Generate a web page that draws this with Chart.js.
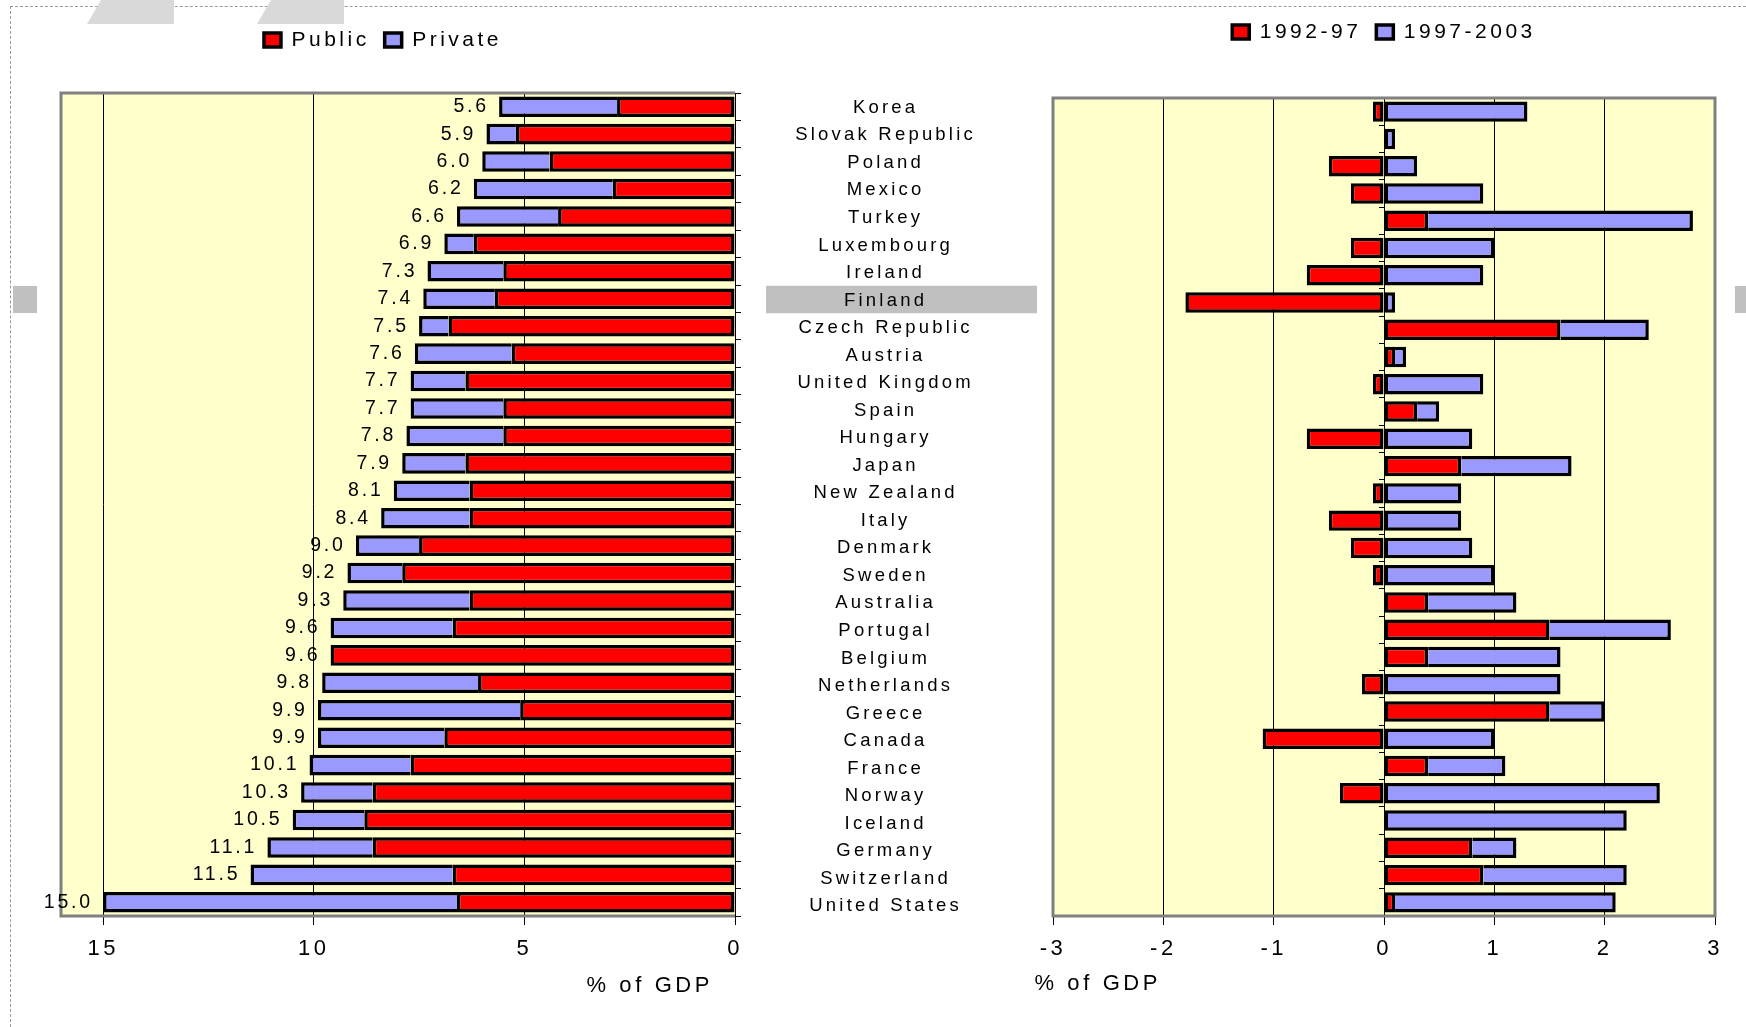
<!DOCTYPE html>
<html>
<head>
<meta charset="utf-8">
<title>Health expenditure, % of GDP</title>
<script src="https://cdn.jsdelivr.net/npm/chart.js@4.4.1/dist/chart.umd.min.js"></script>
<style>
  html, body { margin: 0; padding: 0; background: #fff; }
  #page { position: relative; width: 1746px; height: 1027px; overflow: hidden; background: #fff; }
  #page canvas { position: absolute; top: 0; }
  #left { left: 0; }
  #right { left: 766px; }
  .sheet-edge { position: absolute; left: 10px; top: 6px; right: 0; bottom: 0;
    border-top: 1px dashed #9a9a9a; border-left: 1px dashed #9a9a9a; }
  .tab { position: absolute; top: 0; height: 24px; background: #d9d9d9;
    clip-path: polygon(14px 0, 100% 0, 100% 100%, 0 100%); }
  .marker { position: absolute; background: #c0c0c0; }
</style>
</head>
<body>
<div id="page">
  <div class="sheet-edge"></div>
  <div class="tab" style="left:87px;width:87px"></div>
  <div class="tab" style="left:257px;width:87px"></div>
  <div class="marker" style="left:13px;top:286px;width:24px;height:27px"></div>
  <div class="marker" style="left:1735px;top:286px;width:11px;height:27px"></div>
  <canvas id="left" width="766" height="1027"></canvas>
  <canvas id="right" width="980" height="1027"></canvas>
</div>
<script>
// Countries, ranked by total health spending (% of GDP)
const countries = ['Korea', 'Slovak Republic', 'Poland', 'Mexico', 'Turkey', 'Luxembourg',
  'Ireland', 'Finland', 'Czech Republic', 'Austria', 'United Kingdom', 'Spain', 'Hungary',
  'Japan', 'New Zealand', 'Italy', 'Denmark', 'Sweden', 'Australia', 'Portugal', 'Belgium',
  'Netherlands', 'Greece', 'Canada', 'France', 'Norway', 'Iceland', 'Germany', 'Switzerland',
  'United States'];

// Level of spending, split into public and private parts
const publicSpending = [2.8, 5.2, 4.4, 2.9, 4.2, 6.2, 5.5, 5.7, 6.8, 5.3, 6.4, 5.5, 5.5, 6.4, 6.3,
  6.3, 7.5, 7.9, 6.3, 6.7, 9.6, 6.1, 5.1, 6.9, 7.7, 8.6, 8.8, 8.6, 6.7, 6.6];
const privateSpending = [2.8, 0.7, 1.6, 3.3, 2.4, 0.7, 1.8, 1.7, 0.7, 2.3, 1.3, 2.2, 2.3, 1.5, 1.8,
  2.1, 1.5, 1.3, 3.0, 2.9, 0.0, 3.7, 4.8, 3.0, 2.4, 1.7, 1.7, 2.5, 4.8, 8.4];

// Change in spending, percentage points of GDP
const change1992to97 = [-0.1, 0.0, -0.5, -0.3, 0.4, -0.3, -0.7, -1.8, 1.6, 0.1, -0.1, 0.3, -0.7, 0.7,
  -0.1, -0.5, -0.3, -0.1, 0.4, 1.5, 0.4, -0.2, 1.5, -1.1, 0.4, -0.4, 0.0, 0.8, 0.9, 0.1];
const change1997to2003 = [1.3, 0.1, 0.3, 0.9, 2.4, 1.0, 0.9, 0.1, 0.8, 0.1, 0.9, 0.2, 0.8, 1.0,
  0.7, 0.7, 0.8, 1.0, 0.8, 1.1, 1.2, 1.6, 0.5, 1.0, 0.7, 2.5, 2.2, 0.4, 1.3, 2.0];

// Axis tick labels
const levelTicks = [15, 10, 5, 0];
const changeTicks = [-3, -2, -1, 0, 1, 2, 3];

const highlighted = 'Finland';

const FONT = "'Liberation Sans', Arial, sans-serif";
const RED = '#ff0000';
const BLUE = '#9999ff';
const PLOT_BG = '#ffffcc';
const FRAME = '#808080';
const BAR = { borderColor: '#000', borderWidth: 3.5, barPercentage: 0.75, categoryPercentage: 1,
  xAxisID: 'x', yAxisID: 'y' };

Chart.defaults.font.family = FONT;
Chart.defaults.color = '#000';

function spacedText(ctx, text, x, y, size, spacing, align) {
  ctx.save();
  ctx.font = size + 'px ' + FONT;
  ctx.letterSpacing = spacing + 'px';
  ctx.fillStyle = '#000';
  ctx.textBaseline = 'middle';
  ctx.textAlign = align;
  // letter spacing also trails the last glyph; shift so the visible text sits where asked
  const dx = align === 'center' ? spacing / 2 : align === 'right' ? spacing : 0;
  ctx.fillText(text, x + dx, y);
  ctx.restore();
}

// Wide-tracked lettering for the texts Chart.js draws itself
const tracking = {
  id: 'tracking',
  beforeUpdate(chart, args, opts) { chart.ctx.letterSpacing = opts.value + 'px'; },
  beforeDraw(chart, args, opts) { chart.ctx.letterSpacing = opts.value + 'px'; }
};

function fillPlot(chart) {
  const { ctx, chartArea: a } = chart;
  ctx.save();
  ctx.fillStyle = PLOT_BG;
  ctx.fillRect(a.left, a.top, a.right - a.left, a.bottom - a.top);
  ctx.restore();
}

const legendOptions = {
  position: 'top',
  labels: { font: { size: 21 }, color: '#000', boxWidth: 17, boxHeight: 14, padding: 15 }
};

const spacer = (size, vertical) => ({
  type: 'linear',
  axis: vertical ? 'y' : 'x',
  position: vertical ? 'left' : 'top',
  display: true,
  grid: { display: false },
  border: { display: false },
  ticks: { display: false },
  afterFit(s) { if (vertical) { s.width = size; } else { s.height = size; } }
});

const valueAxisStyle = {
  grid: { color: '#000', lineWidth: 1, tickLength: 9, drawTicks: true },
  border: { display: false },
  ticks: { font: { size: 22 }, color: '#000', padding: 11, maxRotation: 0, callback: v => String(v) }
};

// ---- Level of spending ----
const levelPanel = {
  id: 'levelPanel',
  beforeDraw: fillPlot,
  beforeDatasetsDraw(chart) {
    const { ctx, chartArea: a } = chart;
    ctx.save();
    ctx.strokeStyle = FRAME;
    ctx.lineWidth = 3;
    ctx.beginPath();
    ctx.moveTo(a.right, a.top);
    ctx.lineTo(a.left, a.top);
    ctx.lineTo(a.left, a.bottom);
    ctx.lineTo(a.right, a.bottom);
    ctx.stroke();
    ctx.restore();
  },
  afterDatasetsDraw(chart) {
    const { ctx } = chart;
    const x = chart.scales.x, y = chart.scales.y;
    countries.forEach((name, i) => {
      const total = publicSpending[i] + privateSpending[i];
      spacedText(ctx, total.toFixed(1), x.getPixelForValue(total) - 13, y.getPixelForValue(i), 19.5, 2.8, 'right');
    });
    spacedText(ctx, '% of GDP', 648, 986, 22, 3.6, 'center');
  }
};

new Chart(document.getElementById('left'), {
  type: 'bar',
  data: {
    labels: countries,
    datasets: [
      Object.assign({ label: 'Public', data: publicSpending, backgroundColor: RED,
        borderSkipped: false }, BAR),
      Object.assign({ label: 'Private', data: privateSpending, backgroundColor: BLUE,
        borderSkipped: c => publicSpending[c.dataIndex] > 0 ? 'start' : false }, BAR)
    ]
  },
  options: {
    indexAxis: 'y',
    responsive: false,
    animation: false,
    events: [],
    layout: { padding: { top: 14.5, left: 25, right: 25, bottom: 0 } },
    plugins: {
      legend: legendOptions,
      tooltip: { enabled: false },
      tracking: { value: 3.5 }
    },
    scales: {
      x: Object.assign({
        type: 'linear', position: 'bottom', reverse: true, min: 0, max: 16, stacked: true,
        afterBuildTicks(s) { s.ticks = levelTicks.map(v => ({ value: v })); },
        afterFit(s) { s.height = 111; }
      }, valueAxisStyle),
      y: {
        type: 'category', position: 'right', stacked: true, offset: true,
        ticks: { display: false },
        grid: { offset: true, drawOnChartArea: false, drawTicks: true, tickLength: 6, color: '#000' },
        border: { color: '#000', width: 1 },
        afterFit(s) { s.width = 6; }
      },
      gap: spacer(32.5, false),
      padL: spacer(36, true)
    }
  },
  plugins: [tracking, levelPanel]
});

// ---- Change in spending ----
// the country names sit in the gutter between the panels, on a slightly taller band than the bars
function labelRow(chart, i) {
  const a = chart.chartArea;
  const top = a.top - 4, bottom = a.bottom + 4;
  return top + (i + 0.5) * (bottom - top) / countries.length;
}

const changePanel = {
  id: 'changePanel',
  beforeDraw(chart) {
    fillPlot(chart);
    const { ctx } = chart;
    const a = chart.chartArea;
    const row = (a.bottom - a.top + 8) / countries.length;
    const cy = labelRow(chart, countries.indexOf(highlighted));
    ctx.save();
    ctx.fillStyle = '#c0c0c0';
    ctx.fillRect(0, cy - row / 2 - 1, 271, row);
    ctx.restore();
  },
  beforeDatasetsDraw(chart) {
    const { ctx, chartArea: a } = chart;
    ctx.save();
    ctx.strokeStyle = FRAME;
    ctx.lineWidth = 3;
    ctx.strokeRect(a.left, a.top, a.right - a.left, a.bottom - a.top);
    ctx.restore();
  },
  afterDatasetsDraw(chart) {
    const { ctx } = chart;
    countries.forEach((name, i) => {
      spacedText(ctx, name, 118, labelRow(chart, i), 18.5, 3.2, 'center');
    });
    spacedText(ctx, '% of GDP', 330, 984, 22, 3.6, 'center');
  }
};

new Chart(document.getElementById('right'), {
  type: 'bar',
  data: {
    labels: countries,
    datasets: [
      Object.assign({ label: '1992-97', data: change1992to97, backgroundColor: RED,
        borderSkipped: false }, BAR),
      Object.assign({ label: '1997-2003', data: change1997to2003, backgroundColor: BLUE,
        borderSkipped: c => change1992to97[c.dataIndex] > 0 ? 'start' : false }, BAR)
    ]
  },
  options: {
    indexAxis: 'y',
    responsive: false,
    animation: false,
    events: [],
    layout: { padding: { top: 6.5, left: 287, right: 31, bottom: 0 } },
    plugins: {
      legend: legendOptions,
      tooltip: { enabled: false },
      tracking: { value: 3.5 }
    },
    scales: {
      x: Object.assign({
        type: 'linear', position: 'bottom', min: -3, max: 3, stacked: true,
        afterBuildTicks(s) { s.ticks = changeTicks.map(v => ({ value: v })); },
        afterFit(s) { s.height = 111; }
      }, valueAxisStyle),
      y: { type: 'category', display: false, stacked: true, offset: true },
      y0: {
        type: 'category', axis: 'y', position: { x: 0 }, offset: true,
        ticks: { display: false },
        grid: { offset: true, drawOnChartArea: false, drawTicks: true, tickLength: 5, color: '#000' },
        border: { color: '#000', width: 1 }
      },
      gap: spacer(45.5, false)
    }
  },
  plugins: [tracking, changePanel]
});
</script>
</body>
</html>
